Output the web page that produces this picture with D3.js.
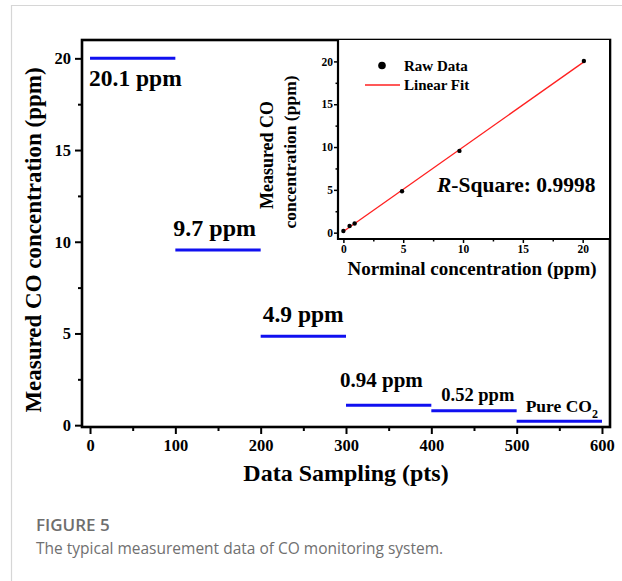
<!DOCTYPE html>
<html><head><meta charset="utf-8">
<script src="https://cdn.jsdelivr.net/npm/d3@7"></script>
<style>
body{margin:0;background:#fff;}
svg text{font-family:"Liberation Serif","Times New Roman",serif;font-weight:bold;fill:#000;}
</style></head>
<body><svg id="c" width="622" height="581"></svg>
<script>
// ---- data ----
const segStart = [0, 100, 200, 300, 400, 500];
const segEnd   = [100, 200, 300, 400, 500, 600];
const segLevel = [20.0, 9.55, 4.85, 1.09, 0.78, 0.22];
const segLabels = ["20.1 ppm", "9.7 ppm", "4.9 ppm", "0.94 ppm", "0.52 ppm", "Pure CO"];
const mainXTicks = [0, 100, 200, 300, 400, 500, 600];
const mainYTicks = [0, 5, 10, 15, 20];
const nominal  = [0, 0.52, 0.94, 4.9, 9.7, 20.1];
const measured = [0.2, 0.78, 1.07, 4.84, 9.55, 20.05];
const insetTicks = [0, 5, 10, 15, 20];

const svg = d3.select("#c");
// card border
svg.append("path").attr("d","M11.5,581 L11.5,5.5 L622,5.5").attr("fill","none").attr("stroke","#d6d6d6").attr("stroke-width",1.2);

// ---- main chart ----
const L=82,R=610,T=40,B=427;
const x = d3.scaleLinear().domain([-9.4,609.4]).range([L,R]);
const y = d3.scaleLinear().domain([-0.1,21]).range([B,T]);

const xMinor = d3.range(50,600,100);
const yMinor = [2.5,7.5,12.5,17.5];
const gx = svg.append("g").attr("transform",`translate(0,${B})`)
  .call(d3.axisBottom(x).tickValues(mainXTicks).tickSize(7).tickPadding(5).tickFormat(d3.format("d")));
const gxm = svg.append("g").attr("transform",`translate(0,${B})`)
  .call(d3.axisBottom(x).tickValues(xMinor).tickSize(4).tickFormat(""));
const gy = svg.append("g").attr("transform",`translate(${L},0)`)
  .call(d3.axisLeft(y).tickValues(mainYTicks).tickSize(7).tickPadding(4).tickFormat(d3.format("d")));
const gym = svg.append("g").attr("transform",`translate(${L},0)`)
  .call(d3.axisLeft(y).tickValues(yMinor).tickSize(4).tickFormat(""));
[gx,gxm,gy,gym].forEach(g=>{g.select(".domain").remove();g.selectAll("line").attr("stroke","#000").attr("stroke-width",2);
  g.selectAll("text").style("font-size","16.5px").attr("fill","#000");});
svg.append("rect").attr("x",L).attr("y",T).attr("width",R-L).attr("height",B-T)
  .attr("fill","none").attr("stroke","#000").attr("stroke-width",2.6);

// segments
const segs = segStart.map((s,i)=>({s,e:segEnd[i],v:segLevel[i],lab:segLabels[i]}));
svg.append("g").selectAll("line").data(segs).join("line")
  .attr("x1",d=>x(d.s)).attr("x2",d=>x(d.e)).attr("y1",d=>y(d.v)).attr("y2",d=>y(d.v))
  .attr("stroke","#1010f0").attr("stroke-width",3);

// segment labels: [x offset from segment start, baseline y, font size]
const labPos = [[-1,86,23.5],[-2,236,24],[2,322,23.5],[-6,387,21],[10,401,18.5],[9,412,17.5]];
segs.forEach((d,i)=>{
  const t = svg.append("text").attr("x",x(d.s)+labPos[i][0]).attr("y",labPos[i][1])
    .style("font-size",labPos[i][2]+"px").text(d.lab);
  if(i===5){ t.append("tspan").attr("dy",6).style("font-size","12px").text("2"); }
});

// axis titles
svg.append("text").attr("x",346).attr("y",481).attr("text-anchor","middle").style("font-size","24px").text("Data Sampling (pts)");
svg.append("text").attr("transform","translate(41,240) rotate(-90)").attr("text-anchor","middle").style("font-size","23px").text("Measured CO concentration (ppm)");

// ---- inset ----
const iL=338,iR=609,iT=40,iB=239;
const ix = d3.scaleLinear().domain([-0.45,22.2]).range([iL,iR]);
const iy = d3.scaleLinear().domain([-0.74,22.5]).range([iB,iT]);
svg.append("rect").attr("x",iL).attr("y",iT).attr("width",iR-iL).attr("height",iB-iT).attr("fill","#fff");
const ixMinor=[2.5,7.5,12.5,17.5], iyMinor=[2.5,7.5,12.5,17.5];
const igx = svg.append("g").attr("transform",`translate(0,${iB})`)
  .call(d3.axisBottom(ix).tickValues(insetTicks).tickSize(4).tickPadding(2).tickFormat(d3.format("d")));
const igxm = svg.append("g").attr("transform",`translate(0,${iB})`)
  .call(d3.axisBottom(ix).tickValues(ixMinor).tickSize(2.5).tickFormat(""));
const igy = svg.append("g").attr("transform",`translate(${iL},0)`)
  .call(d3.axisLeft(iy).tickValues(insetTicks).tickSize(4).tickPadding(1).tickFormat(d3.format("d")));
const igym = svg.append("g").attr("transform",`translate(${iL},0)`)
  .call(d3.axisLeft(iy).tickValues(iyMinor).tickSize(2.5).tickFormat(""));
[igx,igxm,igy,igym].forEach(g=>{g.select(".domain").remove();g.selectAll("line").attr("stroke","#000").attr("stroke-width",1.5);
  g.selectAll("text").style("font-size","11.5px").attr("fill","#000");});
svg.append("path").attr("d",`M${iL},${iT} L${iL},${iB} L${iR},${iB}`).attr("fill","none").attr("stroke","#000").attr("stroke-width",2.2);

// linear fit (least squares from data)
const mx=d3.mean(nominal), my=d3.mean(measured);
const slope=d3.sum(nominal.map((v,i)=>(v-mx)*(measured[i]-my)))/d3.sum(nominal.map(v=>(v-mx)*(v-mx)));
const icpt=my-slope*mx;
const fx=[d3.min(nominal),d3.max(nominal)];
svg.append("line").attr("x1",ix(fx[0])).attr("x2",ix(fx[1])).attr("y1",iy(icpt+slope*fx[0])).attr("y2",iy(icpt+slope*fx[1]))
  .attr("stroke","#ff2020").attr("stroke-width",1.3);
svg.append("g").selectAll("circle").data(nominal).join("circle")
  .attr("cx",d=>ix(d)).attr("cy",(d,i)=>iy(measured[i])).attr("r",2.2).attr("fill","#000");

// legend
svg.append("circle").attr("cx",382).attr("cy",65.5).attr("r",3.8).attr("fill","#000");
svg.append("text").attr("x",404).attr("y",71).style("font-size","15px").text("Raw Data");
svg.append("line").attr("x1",365).attr("x2",400).attr("y1",85).attr("y2",85).attr("stroke","#ff2020").attr("stroke-width",1.3);
svg.append("text").attr("x",404).attr("y",90).style("font-size","15px").text("Linear Fit");

// R-square
const rs = svg.append("text").attr("x",437).attr("y",192).style("font-size","21.5px");
rs.append("tspan").style("font-style","italic").text("R");
rs.append("tspan").text("-Square: 0.9998");

// inset titles
svg.append("text").attr("transform","translate(273,155) rotate(-90)").attr("text-anchor","middle").style("font-size","18px").text("Measured CO");
svg.append("text").attr("transform","translate(296,152) rotate(-90)").attr("text-anchor","middle").style("font-size","17.5px").text("concentration (ppm)");
svg.append("text").attr("x",472).attr("y",275).attr("text-anchor","middle").style("font-size","19px").text("Norminal concentration (ppm)");

// caption
svg.append("text").attr("x",36).attr("y",531).style("font-family","'Open Sans',sans-serif").style("font-weight","600")
  .style("font-size","17px").style("fill","#6e6e6e").text("FIGURE 5");
svg.append("text").attr("x",36).attr("y",554).style("font-family","'Open Sans',sans-serif").style("font-weight","normal")
  .style("font-size","15.5px").style("fill","#707070").text("The typical measurement data of CO monitoring system.");
</script></body></html>
